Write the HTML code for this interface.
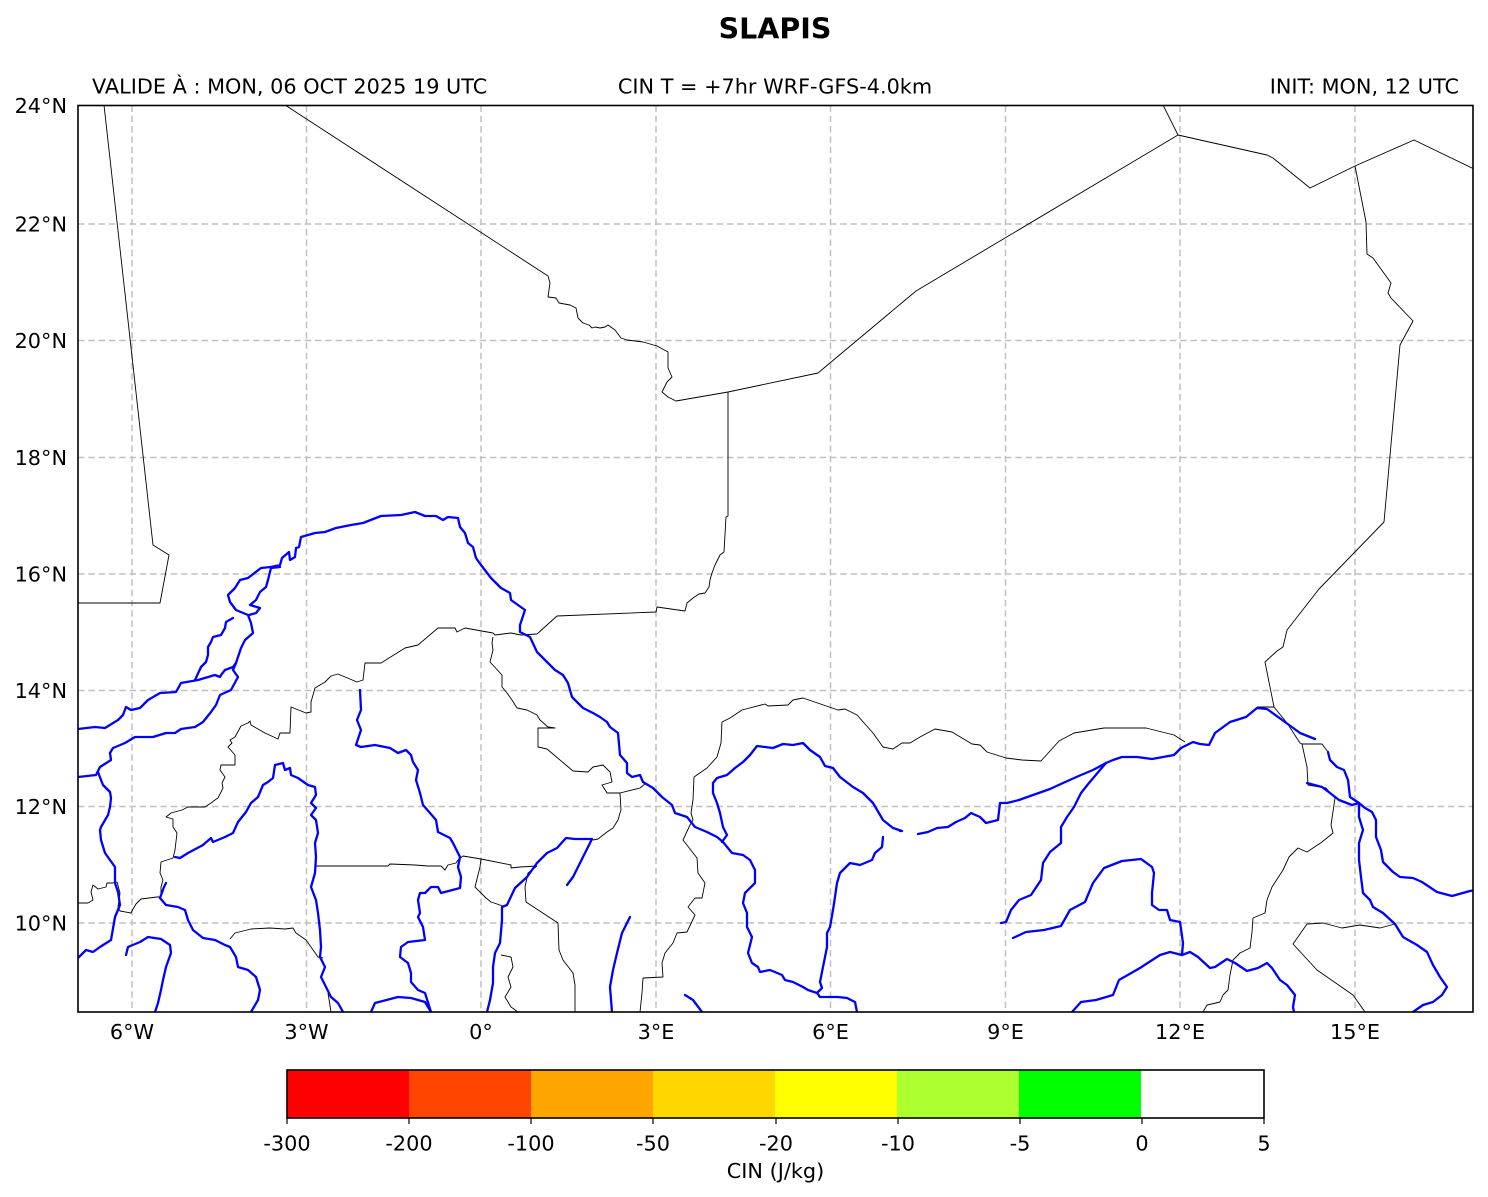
<!DOCTYPE html>
<html>
<head>
<meta charset="utf-8">
<style>
html,body{margin:0;padding:0;background:#fff;}
svg{display:block;}
text{font-family:"DejaVu Sans","Liberation Sans",sans-serif;fill:#000;}
.k{fill:none;stroke:#000;stroke-width:0.9;stroke-linejoin:round;}
.b{fill:none;stroke:#0000ff;stroke-width:2.3;stroke-linejoin:round;stroke-linecap:round;}
.g{stroke:#c0c0c0;stroke-width:1.5;stroke-dasharray:6.5,3.8;fill:none;}
</style>
</head>
<body>
<svg width="1488" height="1197" viewBox="0 0 1488 1197" xmlns="http://www.w3.org/2000/svg">
<rect x="0" y="0" width="1488" height="1197" fill="#fff"/>

<!-- Title -->
<text x="775" y="38.5" font-size="28.5" font-weight="bold" text-anchor="middle">SLAPIS</text>
<text x="92" y="93.5" font-size="20.8">VALIDE À : MON, 06 OCT 2025 19 UTC</text>
<text x="775" y="93.5" font-size="20.8" text-anchor="middle">CIN T = +7hr WRF-GFS-4.0km</text>
<text x="1459" y="93.5" font-size="20.8" text-anchor="end">INIT: MON, 12 UTC</text>

<!-- gridlines -->
<g class="g">
<line x1="132" y1="105.5" x2="132" y2="1012"/>
<line x1="306.5" y1="105.5" x2="306.5" y2="1012"/>
<line x1="481" y1="105.5" x2="481" y2="1012"/>
<line x1="656" y1="105.5" x2="656" y2="1012"/>
<line x1="830.5" y1="105.5" x2="830.5" y2="1012"/>
<line x1="1005.5" y1="105.5" x2="1005.5" y2="1012"/>
<line x1="1180" y1="105.5" x2="1180" y2="1012"/>
<line x1="1355" y1="105.5" x2="1355" y2="1012"/>
<line x1="78" y1="224" x2="1473" y2="224"/>
<line x1="78" y1="340.5" x2="1473" y2="340.5"/>
<line x1="78" y1="457.5" x2="1473" y2="457.5"/>
<line x1="78" y1="574" x2="1473" y2="574"/>
<line x1="78" y1="690.5" x2="1473" y2="690.5"/>
<line x1="78" y1="806.5" x2="1473" y2="806.5"/>
<line x1="78" y1="923" x2="1473" y2="923"/>
</g>

<svg x="78" y="105.5" width="1395" height="906.5" viewBox="78 105.5 1395 906.5" overflow="hidden">
<!-- Borders -->
<g class="k">
<polyline points="104,105 153,545 169,555 160,603 78,603"/>
<polyline points="285,105 548,276 550,283 548,297 556,298 559,303 570,305 576,308 578,318 583,323 589,325 592,328 595,327 600,328 605,327 608,325 615,330 621,338 627,340 643,342 657,346 668,352 668,368 672,377 667,382 662,392 668,397 676,401 728,392 818,373 916,291 1178,135"/>
<polyline points="1163,105 1178,135 1267,155 1273,158 1310,188 1355,166 1414,140 1474,169"/>
<polyline points="1355,166 1366,222 1367,254 1373,258 1391,283 1388,293 1391,298 1413,321 1400,345 1384,522 1319,589 1287,630 1283,647 1277,651 1265,662 1274,707"/>
<polyline points="1257,707 1274,707 1287,723 1300,743 1302,744 1322,744 1328,752"/>
<polyline points="728,392 728,516 726,517 724,552 720,555 715,565 712,573 710,580 709,587 705,593 699,594 693,598 687,603 685,611 657,607 656,612 557,616 537,634"/>
<polyline points="537,634 521,635 511,633 495,635 493,633 465,628 457,632 455,628 438,628 418,645 405,648 381,663 365,663 363,680 357,682 338,674 331,676 325,682 315,688 311,702 311,712 306,713 291,707 290,733 280,733 278,739 265,733 251,725 250,721 248,723 241,726 235,737 230,740 232,743 228,747 235,755 235,765 221,765 220,770 225,777 222,783 223,788 218,798 215,800 211,803 205,807 188,807 182,810 171,813 166,817 173,819 173,827 177,833 175,850 173,858 161,862 160,873 163,880 161,887 161,897 157,897 141,899 136,904 133,909 131,913 120,911 118,907 120,893 117,882 113,883 107,883 106,887 98,889 93,885 91,892 93,900 88,903 78,903"/>
<polyline points="230,939 235,933 251,929 270,928 285,929 293,928 296,933 306,940 311,947 318,957 323,958"/>
<polyline points="328,993 331,1012"/>
<polyline points="316,866 388,866 390,864 415,865 428,866 441,866 445,870 448,865 456,863 458,860 463,856 481,859 511,865 511,868 520,867 537,866"/>
<polyline points="481,859 480,867 475,887 486,898 491,902 503,906"/>
<polyline points="501,955 511,957 513,967 508,977 511,987 505,997 511,1007 518,1012"/>
<polyline points="537,866 528,873 525,887 526,902 558,923 559,950 563,960 573,973 575,985 575,1012"/>
<polyline points="493,637 492,643 493,650 490,662 502,675 502,687 507,693 512,700 517,708 527,710 537,715 540,720 548,727 555,728 538,728 538,747 547,749 573,771 588,772 593,767 603,765 610,772 612,782 602,785 607,793 620,793 621,810 620,813 618,820 613,828 607,832 598,839 593,840"/>
<polyline points="620,793 640,788 645,784"/>
<polyline points="1185,742 1174,735 1146,728 1104,728 1074,733 1059,741 1041,761 1022,760 1006,758 987,752 980,745 972,744 952,732 935,729 920,737 910,743 902,743 893,749 883,747 873,733 857,715 845,709 838,710 803,698 793,700 788,705 768,706 765,704 742,710 730,718 722,722 721,743 717,757 707,768 694,777 693,800 691,813 693,820 690,825 683,840 697,858 698,873 705,883 702,898 695,898 688,907 695,915 687,932 677,933 673,943 665,953 662,963 663,977 643,978 642,993 640,1012"/>
<polyline points="1302,744 1307,767 1308,785 1326,788 1335,798 1331,825 1333,833 1322,842 1307,852 1298,848 1289,857 1283,870 1272,887 1267,900 1265,913 1253,918 1252,932 1250,948 1240,953 1233,960 1230,975 1228,990 1223,995 1220,1002 1207,1005 1203,1012"/>
<polyline points="1307,924 1293,944 1317,970 1353,995 1365,1012"/>
<polyline points="1307,924 1323,923 1342,928 1360,925 1380,928 1395,924"/>
</g>

<!-- Rivers -->
<g class="b">
<polyline points="78,777 96,775 100,767 111,760 110,753 113,748 125,743 135,737 153,737 166,733 175,733 181,729 195,727 203,722 211,712 216,705 220,695 231,690 238,677 233,670 236,663 241,648 245,640 253,633 251,623 248,615 236,610 230,602 228,595 235,588 240,580 248,578 261,568 271,567 280,565 282,558 289,552 290,560 295,557 296,548 299,547 301,537 315,533 325,532 336,528 351,525 363,523 381,516 401,515 415,512 425,516 436,516 443,520 448,517 458,518 460,527 465,533 468,543 473,547 476,558 481,565 491,578 501,588 510,593 511,600 525,610 520,625 520,632 530,637 537,652 547,662 555,670 563,675 568,683 572,697 583,708 593,713 600,717 607,722 610,727 618,733 620,755 627,763 627,773 632,777 640,775 643,782 653,788 662,797 672,805 675,813 687,817 695,827 707,832 717,837 723,842 732,853 743,855 750,860 755,870 755,883 745,893 743,903 747,913 747,927 752,937 748,953 752,963 758,967 760,972 770,970 782,975 785,980 793,982 803,987 808,990 817,993 820,997 838,997 847,998 855,1002 857,1012"/>
<polyline points="280,567 271,568 268,580 266,587 260,592 256,600 250,605 260,608 256,613 249,615"/>
<polyline points="233,618 226,622 225,628 221,635 213,637 211,642 208,647 208,655 206,662 201,667 195,680"/>
<polyline points="236,663 233,667 225,670 221,675 220,677 215,675 198,680 181,683 176,692 160,693 148,700 140,708 131,710 126,707 123,715 118,720 105,728 95,727 78,729"/>
<polyline points="360,690 361,710 357,720 361,730 356,745 361,747 375,745 390,748 398,753 406,750 411,755 413,762 418,770 416,780 420,793 423,805 430,813 436,820 438,832 450,838 453,843 460,857 458,867 461,877 460,888 441,893 438,887 431,887 425,893 420,893 418,900 420,913 418,917 423,927 425,940 408,942 401,947 400,957 408,963 411,973 411,982 418,990 425,993 431,1012"/>
<polyline points="371,1012 375,1003 398,997 411,998 425,1002 431,1012"/>
<polyline points="275,765 283,763 285,770 290,768 291,775 298,778 308,785 315,787 316,795 311,803 316,808 311,815 316,820 318,833 315,843 316,857 315,873 311,887 316,900 318,913 320,930 321,947 320,957 325,967 321,977 326,987 331,997 338,1003 343,1012"/>
<polyline points="275,765 273,778 268,782 263,785 258,797 251,803 246,812 238,822 233,833 225,837 213,842 211,838 203,845 188,853 180,858 175,857"/>
<polyline points="98,772 101,780 103,785 110,792 111,798 110,807 108,815 101,827 100,830 101,840 105,853 115,867 115,883 118,892 120,905 115,917 111,940 100,947 93,952 86,950 78,958"/>
<polyline points="166,883 164,887 160,898 166,905 178,907 185,910 188,920 193,930 203,938 215,940 225,945 230,947 236,957 238,967 248,970 256,977 260,990 258,1000 251,1012"/>
<polyline points="126,955 128,947 140,942 148,937 161,939 170,945 171,953 166,967 163,980 161,990 158,1003 155,1012"/>
<polyline points="592,839 575,839 566,838 557,848 547,853 537,863 527,877 515,888 507,905 502,907 502,920 500,943 495,953 493,967 493,983 490,1000 487,1012"/>
<polyline points="592,839 585,853 578,867 573,877 567,885"/>
<polyline points="630,917 622,933 617,953 613,970 610,987 612,1012"/>
<polyline points="685,995 693,1000 702,1012"/>
<polyline points="902,831 893,828 883,820 873,803 863,793 853,787 840,777 833,768 825,766 820,757 810,750 803,743 793,745 783,744 773,748 757,746 750,755 743,762 735,768 727,775 717,778 713,783 713,793 717,803 720,813 723,827 727,835 722,842"/>
<polyline points="883,837 882,847 875,853 872,860 860,865 850,863 840,873 837,883 835,897 833,910 830,927 827,933 827,947 823,967 820,982 822,988 817,993"/>
<polyline points="918,834 928,832 937,828 948,827 956,822 965,818 971,813 980,817 986,823 998,820 1000,803 1007,803 1019,800 1033,795 1050,789 1063,783 1081,775 1093,770 1106,763 1113,760 1122,757 1137,757 1152,759 1174,755 1181,748 1193,742 1200,744 1209,745 1215,733 1230,722 1246,717 1257,708 1267,709 1285,722 1300,733 1315,739"/>
<polyline points="1106,763 1100,770 1089,783 1081,793 1074,807 1067,817 1061,827 1061,843 1050,852 1043,863 1041,880 1031,895 1019,900 1011,910 1006,922 1001,923"/>
<polyline points="1013,938 1026,932 1044,930 1061,926 1070,910 1085,902 1093,883 1104,868 1122,861 1141,859 1152,867 1154,873 1152,893 1152,905 1159,910 1167,910 1170,920 1180,922 1183,943 1182,955"/>
<polyline points="1072,1012 1081,1002 1096,1000 1113,995 1119,980 1133,972 1140,968 1160,955 1170,952 1182,955 1190,952 1198,957 1210,968 1215,967 1227,959 1235,963 1247,971 1258,968 1267,963 1272,968 1280,980 1287,985 1295,995 1293,1007 1294,1012"/>
<polyline points="1328,752 1330,760 1337,767 1344,770 1348,780 1350,797 1359,803 1365,808 1372,812 1376,820 1376,837 1381,850 1383,862 1393,872 1400,877 1413,878 1422,882 1437,892 1452,896 1470,891 1475,890"/>
<polyline points="1307,783 1322,787 1330,793 1339,800 1352,805 1359,803"/>
<polyline points="1359,803 1359,817 1363,830 1359,843 1359,860 1361,877 1363,893 1370,900 1373,907 1383,913 1395,924 1403,937 1417,945 1427,952 1433,965 1440,977 1447,987 1442,995 1433,1002 1423,1005 1413,1012"/>
<line x1="900" y1="831" x2="901.5" y2="831"/>
</g>
</svg>

<!-- Frame -->
<rect x="78" y="105.5" width="1395" height="906.5" fill="none" stroke="#000" stroke-width="1.6"/>

<!-- Axis labels -->
<g font-size="20.8" text-anchor="middle">
<text x="132" y="1039">6°W</text>
<text x="306.5" y="1039">3°W</text>
<text x="481" y="1039">0°</text>
<text x="656" y="1039">3°E</text>
<text x="830.5" y="1039">6°E</text>
<text x="1005.5" y="1039">9°E</text>
<text x="1180" y="1039">12°E</text>
<text x="1355" y="1039">15°E</text>
</g>
<g font-size="20.8" text-anchor="end">
<text x="67" y="113">24°N</text>
<text x="67" y="231.5">22°N</text>
<text x="67" y="348">20°N</text>
<text x="67" y="465">18°N</text>
<text x="67" y="581.5">16°N</text>
<text x="67" y="698">14°N</text>
<text x="67" y="814">12°N</text>
<text x="67" y="930.5">10°N</text>
</g>

<!-- Colorbar -->
<rect x="287" y="1070" width="122" height="48" fill="#ff0000"/>
<rect x="409" y="1070" width="122.2" height="48" fill="#ff4500"/>
<rect x="531" y="1070" width="122.2" height="48" fill="#ffa500"/>
<rect x="653" y="1070" width="122.2" height="48" fill="#ffd700"/>
<rect x="775" y="1070" width="122.2" height="48" fill="#ffff00"/>
<rect x="897" y="1070" width="122.2" height="48" fill="#adff2f"/>
<rect x="1019" y="1070" width="122.2" height="48" fill="#00ff00"/>
<rect x="1141" y="1070" width="123" height="48" fill="#ffffff"/>
<rect x="287" y="1070" width="977" height="48" fill="none" stroke="#000" stroke-width="1.6"/>
<g stroke="#000" stroke-width="1.2">
<line x1="287" y1="1118" x2="287" y2="1124"/>
<line x1="409" y1="1118" x2="409" y2="1124"/>
<line x1="531" y1="1118" x2="531" y2="1124"/>
<line x1="653" y1="1118" x2="653" y2="1124"/>
<line x1="776" y1="1118" x2="776" y2="1124"/>
<line x1="898" y1="1118" x2="898" y2="1124"/>
<line x1="1020" y1="1118" x2="1020" y2="1124"/>
<line x1="1142" y1="1118" x2="1142" y2="1124"/>
<line x1="1264" y1="1118" x2="1264" y2="1124"/>
</g>
<g font-size="20.8" text-anchor="middle">
<text x="287" y="1150.5">-300</text>
<text x="409" y="1150.5">-200</text>
<text x="531" y="1150.5">-100</text>
<text x="653" y="1150.5">-50</text>
<text x="776" y="1150.5">-20</text>
<text x="898" y="1150.5">-10</text>
<text x="1020" y="1150.5">-5</text>
<text x="1142" y="1150.5">0</text>
<text x="1264" y="1150.5">5</text>
<text x="775.5" y="1178">CIN (J/kg)</text>
</g>
</svg>
</body>
</html>
